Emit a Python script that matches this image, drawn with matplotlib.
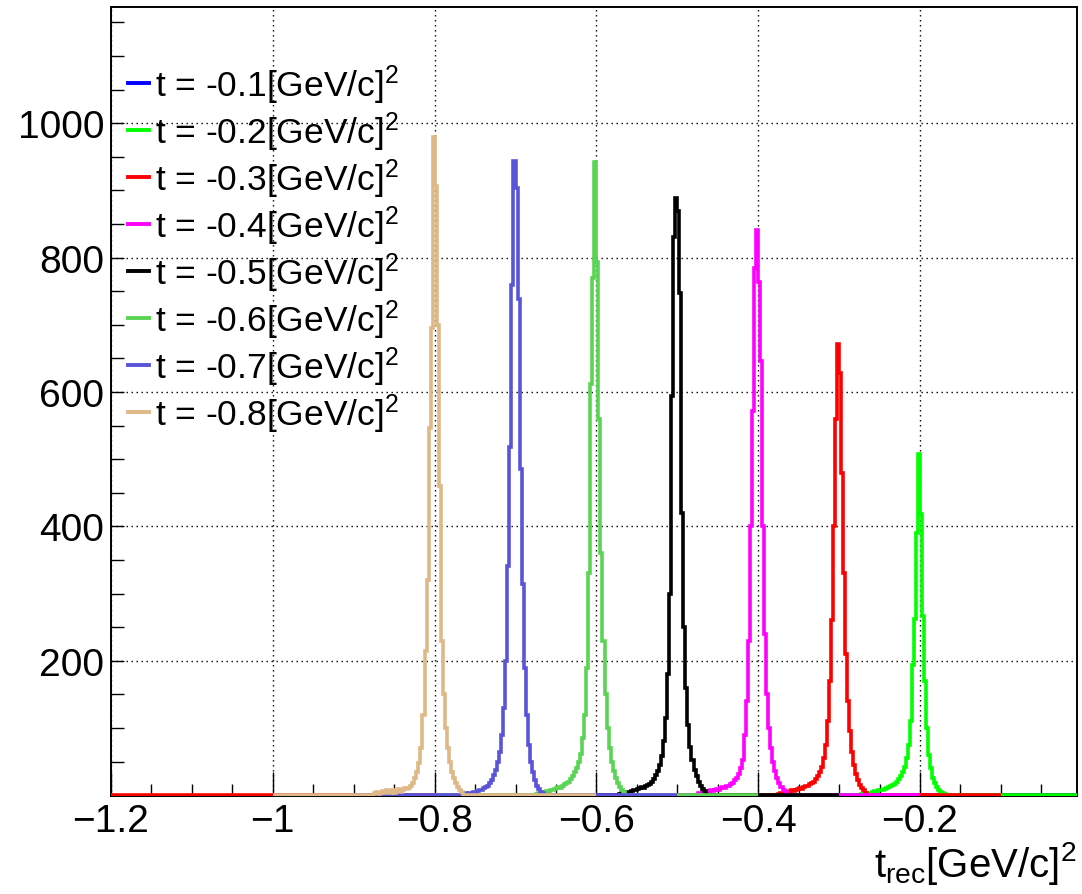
import numpy as np
import matplotlib
matplotlib.use('Agg')
import matplotlib.pyplot as plt
from matplotlib.lines import Line2D

plt.rcParams['font.family'] = ['Liberation Sans', 'DejaVu Sans']
plt.rcParams['mathtext.fontset'] = 'custom'
plt.rcParams['mathtext.rm'] = 'Liberation Sans'
plt.rcParams['mathtext.it'] = 'Liberation Sans'
plt.rcParams['mathtext.bf'] = 'Liberation Sans:bold'

# generated t values (legend order = draw order)
t_gen = [-0.1, -0.2, -0.3, -0.4, -0.5, -0.6, -0.7, -0.8]
colors = ['#0000ff', '#00ff00', '#ff0000', '#ff00ff', '#000000', '#59d454', '#5954d8', '#deb887']
labels = ['t = %.1f[GeV/c]$\\mathregular{^2}$' % t for t in t_gen]

# each histogram: range [t-0.2, t+0.2], bin width 0.0025
hist_half_range = 0.2
bin_w = 0.0025
win_start = -0.075   # first filled bin, relative to t (44 bins listed below)

counts_01 = []
counts_02 = [1, 2, 3, 2, 4, 3, 5, 6, 5, 7, 8, 7, 9, 10, 12,
             13, 15, 17, 20, 24, 28, 34, 42,
             55, 75, 110, 194, 262, 390,
             508,
             418, 267, 170, 100, 60,
             40, 26, 18, 12, 8, 5, 3, 2, 1]
counts_03 = [2, 3, 4, 5, 4, 6, 7, 6, 8, 9, 10, 9, 12, 14, 13,
             16, 18, 20, 24, 28, 34, 42, 55,
             75, 110, 170, 260, 400, 560,
             672,
             628, 480, 330, 210, 140,
             95, 65, 45, 32, 22, 15, 10, 7, 4]
counts_04 = [3, 4, 5, 4, 6, 5, 7, 6, 8, 9, 8, 10, 12, 11, 13,
             14, 16, 18, 22, 26, 32, 40, 52,
             90, 140, 230, 400, 572, 785,
             841,
             763, 646, 400, 240, 150,
             100, 70, 50, 36, 26, 18, 12, 8, 5]
counts_05 = [1, 2, 3, 2, 4, 5, 4, 6, 8, 7, 9, 10, 12, 11, 13,
             15, 17, 20, 24, 30, 36, 45, 58,
             80, 115, 180, 300, 594, 830,
             889,
             870, 748, 420, 250, 160,
             105, 72, 52, 38, 28, 20, 14, 9, 6]
counts_06 = [2, 3, 4, 3, 5, 6, 5, 8, 7, 9, 10, 12, 11, 14, 16,
             18, 20, 24, 28, 34, 40, 50, 62,
             85, 120, 190, 330, 612, 770,
             942,
             793, 560, 360, 230, 150,
             100, 70, 50, 36, 26, 18, 12, 8, 5]
counts_07 = [0, 1, 0, 2, 1, 3, 2, 4, 3, 5, 4, 6, 8, 7, 10,
             12, 14, 18, 22, 30, 38, 50, 65,
             90, 130, 200, 341, 518, 759,
             944,
             904, 739, 486, 314, 190,
             120, 75, 50, 34, 22, 14, 9, 5, 3]
counts_08 = [3, 5, 2, 4, 6, 3, 8, 5, 4, 7, 3, 6, 9, 5, 8,
             10, 9, 10, 14, 18, 25, 35, 48,
             70, 120, 215, 320, 547, 695,
             979,
             907, 700, 460, 230, 150,
             100, 70, 50, 35, 25, 18, 12, 8, 5]
all_counts = [counts_01, counts_02, counts_03, counts_04,
              counts_05, counts_06, counts_07, counts_08]

# empty frame histogram drawn first
frame_range = [-1.2, 0.0]
frame_color = '#ff0000'

x_ticks = [-1.2, -1.0, -0.8, -0.6, -0.4, -0.2]
x_tick_labels = ['\u22121.2', '\u22121', '\u22120.8', '\u22120.6', '\u22120.4', '\u22120.2']
y_ticks = [200, 400, 600, 800, 1000]

fig = plt.figure(figsize=(10.82, 8.95), dpi=100)
W, H = 1082, 895
ax = fig.add_axes([111 / W, 1 - 797 / H, (1077 - 111) / W, (797 - 8) / H])

LW = 2.6
ax.stairs([0], frame_range, color=frame_color, lw=LW, zorder=3)

for t, c, cnt in zip(t_gen, colors, all_counts):
    edges = np.arange(t - hist_half_range, t + hist_half_range + bin_w / 2, bin_w)
    h = np.zeros(len(edges) - 1)
    i0 = int(round((win_start + hist_half_range) / bin_w))
    h[i0:i0 + len(cnt)] = cnt
    ax.stairs(h, edges, color=c, lw=LW, zorder=3)

ax.set_xlim(-1.2, -0.006)
ax.set_ylim(-1.2, 1173)

ax.set_xticks(x_ticks)
ax.set_xticklabels(x_tick_labels)
ax.set_xticks(np.arange(-1.2, 0.0, 0.05), minor=True)
ax.set_yticks(y_ticks)
ax.set_yticks(np.arange(50, 1170, 50), minor=True)

ax.tick_params(axis='both', which='both', direction='in', width=1.0, labelsize=28)
ax.tick_params(axis='x', which='major', length=17, pad=5)
ax.tick_params(axis='x', which='minor', length=8.5)
ax.tick_params(axis='y', which='both', length=9.5, pad=5)

for s in ax.spines.values():
    s.set_linewidth(1.4)
    s.set_zorder(2)

ax.grid(True, which='major', color='black', linestyle=(0, (1, 2.6)), linewidth=1.0)

ax.set_xlabel(r'$\mathregular{t_{rec}[GeV/c]^2}$', fontsize=29, loc='right', labelpad=0)

handles = [Line2D([], [], color=c, lw=2.8) for c in colors]
ax.legend(handles, labels, loc='upper left', bbox_to_anchor=(0.0176, 0.93),
          frameon=False, fontsize=25.5, handlelength=0.6, handletextpad=0.17,
          labelspacing=0.10, borderpad=0, borderaxespad=0)

fig.savefig('out.png', dpi=100)
